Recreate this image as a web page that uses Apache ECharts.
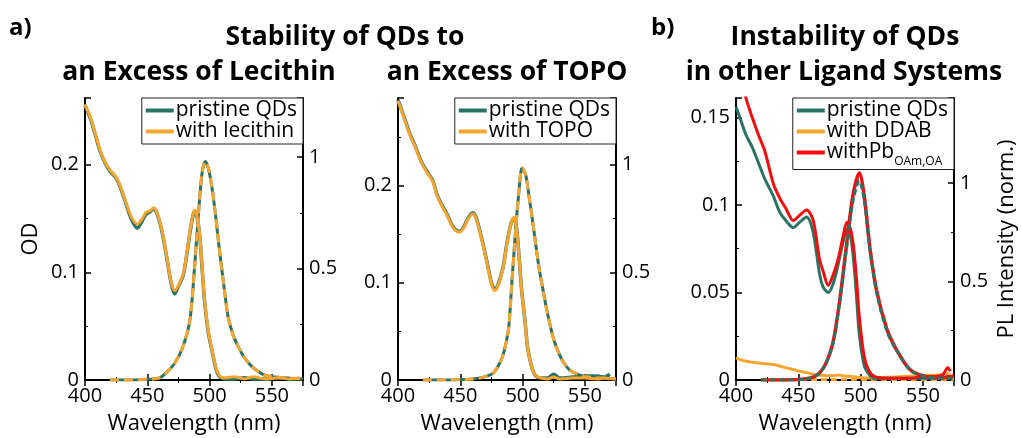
<!DOCTYPE html>
<html>
<head>
<meta charset="utf-8">
<script src="https://cdn.jsdelivr.net/npm/echarts@6/dist/echarts.min.js"></script>
<style>
  html, body { margin: 0; padding: 0; background: #fff; }
  #chart { width: 1021px; height: 438px; }
</style>
</head>
<body>
<div id="chart"></div>
<script>
// ---- panel a) lecithin ----
var wlOd1 = [400, 404, 408, 412, 416, 420, 424, 427, 432, 437, 442, 446, 449, 452, 455, 458, 462, 466, 469, 472, 475, 479, 482, 485, 488, 490, 492, 494, 496, 499, 502, 505, 508, 512, 520, 528, 535, 545, 555, 565, 572];
var odPristine1 = [0.255, 0.244, 0.229, 0.213, 0.202, 0.194, 0.189, 0.183, 0.167, 0.150, 0.141, 0.148, 0.154, 0.156, 0.159, 0.154, 0.137, 0.111, 0.091, 0.080, 0.087, 0.098, 0.119, 0.142, 0.157, 0.151, 0.135, 0.104, 0.073, 0.044, 0.027, 0.011, 0.003, 0.001, 0.001, 0.002, 0.001, 0.001, 0.002, 0.001, 0.001];
var odLecithin1 = [0.256, 0.245, 0.230, 0.214, 0.203, 0.195, 0.190, 0.184, 0.168, 0.152, 0.145, 0.150, 0.156, 0.157, 0.160, 0.155, 0.138, 0.112, 0.092, 0.083, 0.088, 0.099, 0.120, 0.143, 0.158, 0.152, 0.136, 0.105, 0.074, 0.045, 0.028, 0.012, 0.004, 0.002, 0.003, 0.001, 0.003, 0.001, 0.002, 0.001, 0.002];
var wlPl1 = [420, 430, 440, 450, 460, 466, 472, 478, 484, 488, 491, 494, 496.5, 499, 502, 505, 508, 512, 515, 519, 523, 528, 534, 540, 545, 555, 565, 575];
var plPristine1 = [0, 0, 0, 0.003, 0.01, 0.037, 0.075, 0.14, 0.26, 0.51, 0.74, 0.93, 0.98, 0.95, 0.86, 0.73, 0.58, 0.40, 0.28, 0.20, 0.15, 0.10, 0.06, 0.035, 0.02, 0.012, 0.008, 0.005];
var plLecithin1 = [0, 0, 0, 0.003, 0.01, 0.037, 0.075, 0.14, 0.26, 0.51, 0.74, 0.93, 0.98, 0.95, 0.86, 0.73, 0.58, 0.40, 0.28, 0.20, 0.15, 0.10, 0.06, 0.035, 0.02, 0.012, 0.008, 0.005];

// ---- panel a) TOPO ----
var wlOd2 = [400, 405, 409, 414, 419, 424, 428, 431, 434, 437, 440, 443, 446, 449.6, 453, 456, 460, 463, 468, 472, 475, 477.6, 480, 484, 488, 491, 493, 495, 497, 499, 502, 504, 507, 510, 515, 520, 525, 530, 540, 550, 560, 566, 570];
var odPristine2 = [0.288, 0.270, 0.255, 0.240, 0.224, 0.213, 0.205, 0.192, 0.183, 0.176, 0.169, 0.160, 0.155, 0.153, 0.158, 0.166, 0.172, 0.166, 0.141, 0.118, 0.100, 0.093, 0.097, 0.114, 0.145, 0.162, 0.166, 0.158, 0.130, 0.096, 0.060, 0.034, 0.015, 0.005, 0.002, 0.002, 0.006, 0.002, 0.003, 0.004, 0.004, 0.003, 0.006];
var odTopo2 = [0.287, 0.269, 0.254, 0.239, 0.223, 0.212, 0.204, 0.191, 0.182, 0.175, 0.168, 0.159, 0.154, 0.152, 0.157, 0.165, 0.171, 0.165, 0.140, 0.117, 0.099, 0.092, 0.096, 0.113, 0.144, 0.162, 0.167, 0.158, 0.130, 0.096, 0.060, 0.034, 0.015, 0.005, 0.002, 0.001, 0.003, 0.001, 0.002, 0.002, 0.001, 0.002, 0.001];
var wlPl2 = [420, 430, 440, 450, 460, 468, 476, 480, 484, 487, 489, 491.6, 494.6, 497, 499.6, 502.6, 505, 508, 513, 517, 520, 524, 527, 532, 537.6, 545, 551, 560, 575];
var plPristine2 = [0, 0, 0, 0.002, 0.005, 0.012, 0.03, 0.06, 0.11, 0.18, 0.25, 0.47, 0.71, 0.87, 0.985, 0.95, 0.86, 0.74, 0.53, 0.40, 0.31, 0.21, 0.155, 0.09, 0.047, 0.025, 0.015, 0.01, 0.005];
var plTopo2 = [0, 0, 0, 0.002, 0.005, 0.012, 0.03, 0.06, 0.11, 0.18, 0.25, 0.47, 0.71, 0.87, 0.985, 0.95, 0.86, 0.74, 0.53, 0.40, 0.31, 0.21, 0.155, 0.09, 0.047, 0.025, 0.015, 0.01, 0.005];

// ---- panel b) other ligand systems ----
var wlOd3 = [400, 404, 408, 413, 418, 423, 430, 435, 440, 446, 451, 456.7, 462, 467, 470, 474, 478, 482, 486, 489, 492, 494.7, 497, 499, 503, 507, 511, 520, 530, 540, 550, 560, 566, 570, 572];
var odPristine3 = [0.156, 0.148, 0.140, 0.133, 0.124, 0.115, 0.105, 0.096, 0.091, 0.087, 0.090, 0.093, 0.084, 0.061, 0.053, 0.050, 0.055, 0.066, 0.079, 0.086, 0.082, 0.066, 0.045, 0.026, 0.008, 0.003, 0.001, 0.001, 0.001, 0.001, 0.001, 0.001, 0.001, 0.002, 0.002];
var odPb3 = [0.190, 0.175, 0.161, 0.150, 0.140, 0.131, 0.112, 0.104, 0.098, 0.091, 0.094, 0.097, 0.091, 0.069, 0.062, 0.054, 0.060, 0.069, 0.082, 0.090, 0.086, 0.074, 0.055, 0.036, 0.013, 0.005, 0.002, 0.001, 0.001, 0.001, 0.002, 0.002, 0.003, 0.007, 0.005];
var odDdab3 = [0.0126, 0.0115, 0.0107, 0.0102, 0.0097, 0.0093, 0.0088, 0.0080, 0.0069, 0.0060, 0.0050, 0.0042, 0.0032, 0.0028, 0.0026, 0.0024, 0.0025, 0.0028, 0.0024, 0.0022, 0.0020, 0.0018, 0.0016, 0.0014, 0.0012, 0.0012, 0.0013, 0.0015, 0.0018, 0.0022, 0.0025, 0.0028, 0.0030, 0.0035, 0.0032];
var wlPl3 = [420, 430, 440, 455, 462, 467, 472, 478, 483.6, 489, 494, 499, 503, 507.5, 513, 521, 527, 532, 537, 542, 553, 565, 575];
var plPristine3 = [0, 0, 0, 0.005, 0.015, 0.035, 0.08, 0.19, 0.41, 0.68, 0.91, 1.01, 0.91, 0.66, 0.44, 0.25, 0.17, 0.12, 0.07, 0.04, 0.015, 0.01, 0.008];
var plPb3 = [0, 0, 0, 0.005, 0.015, 0.036, 0.082, 0.195, 0.42, 0.70, 0.94, 1.05, 0.93, 0.67, 0.45, 0.26, 0.175, 0.12, 0.072, 0.042, 0.016, 0.012, 0.02];
var plDdab3 = [0.002, 0.001, 0.002, 0.002, 0.003, 0.002, 0.003, 0.003, 0.004, 0.004, 0.003, 0.004, 0.003, 0.003, 0.004, 0.003, 0.002, 0.003, 0.002, 0.002, 0.002, 0.003, 0.004];

var TEAL = '#2b7364';
var ORANGE = '#f7a531';
var RED = '#f50d0d';
var FONT = '"Open Sans"';

function zip(xs, ys) {
    var out = [];
    for (var i = 0; i < xs.length; i++) out.push([xs[i], ys[i]]);
    return out;
}

var chart = echarts.init(document.getElementById('chart'), null, { renderer: 'canvas' });

var grids = [
    { left: 85, right: 718, top: 98, bottom: 58, outerBoundsMode: 'none', containLabel: false },
    { left: 398, right: 405, top: 98, bottom: 58, outerBoundsMode: 'none', containLabel: false },
    { left: 736, right: 67, top: 98, bottom: 58, outerBoundsMode: 'none', containLabel: false }
];

function xAxisBottom(gi) {
    return {
        type: 'value', gridIndex: gi, position: 'bottom',
        min: 400, max: 575, interval: 50,
        axisLine: { lineStyle: { color: '#000', width: 2 } },
        axisTick: { inside: true, length: 6, lineStyle: { color: '#000', width: 1.5 } },
        minorTick: { show: true, splitNumber: 2, length: 3, lineStyle: { color: '#000', width: 1 } },
        axisLabel: { color: '#000', fontSize: 20, fontFamily: FONT, margin: 6, showMaxLabel: false },
        splitLine: { show: false },
        name: 'Wavelength (nm)', nameLocation: 'middle', nameGap: 33,
        nameTextStyle: { color: '#000', fontSize: 22, fontFamily: FONT, verticalAlign: 'top' }
    };
}
function xAxisTop(gi) {
    return {
        type: 'value', gridIndex: gi, position: 'top',
        min: 400, max: 575, interval: 50,
        axisLine: { lineStyle: { color: '#000', width: 1.5 } },
        axisTick: { inside: true, length: 6, lineStyle: { color: '#000', width: 1.5 } },
        minorTick: { show: true, splitNumber: 2, length: 3, lineStyle: { color: '#000', width: 1 } },
        axisLabel: { show: false },
        splitLine: { show: false }
    };
}
function yAxis(gi, pos, max, interval, name, gap) {
    return {
        type: 'value', gridIndex: gi, position: pos,
        min: 0, max: max, interval: interval,
        axisLine: { show: true, lineStyle: { color: '#000', width: 2 } },
        axisTick: { show: true, inside: true, length: 6, lineStyle: { color: '#000', width: 1.5 } },
        minorTick: { show: true, splitNumber: 2, length: 3, lineStyle: { color: '#000', width: 1 } },
        axisLabel: { color: '#000', fontSize: 20, fontFamily: FONT, margin: 6, showMaxLabel: false },
        splitLine: { show: false },
        name: name || '', nameLocation: 'middle', nameGap: gap || 0,
        nameTextStyle: { color: '#000', fontSize: 22, fontFamily: FONT }
    };
}

function line(name, xi, yi, data, color, width, dash, z) {
    return {
        name: name, type: 'line', xAxisIndex: xi, yAxisIndex: yi,
        data: data, showSymbol: false, symbol: 'none', smooth: 0.3,
        lineStyle: { color: color, width: width, type: dash || 'solid' },
        itemStyle: { color: color },
        z: z || 2, animation: false
    };
}

function legend(names, right, top, lh) {
    return {
        data: names, orient: 'vertical', right: right, top: top,
        backgroundColor: '#fff', borderColor: '#222', borderWidth: 1,
        padding: [2, 6, 2, 4], itemGap: 0, itemWidth: 28, itemHeight: 4,
        icon: 'rect', selectedMode: false,
        formatter: function (n) {
            return n === 'withPbOAm,OA' ? '{m|withPb}{s|OAm,OA}' : '{m|' + n + '}';
        },
        textStyle: {
            color: '#000', fontFamily: FONT, padding: [0, 0, 0, -3],
            rich: {
                m: { fontSize: 21, fontFamily: FONT, lineHeight: lh, color: '#000' },
                s: { fontSize: 12, fontFamily: FONT, lineHeight: 30, verticalAlign: 'bottom', padding: [12, 0, 0, 0], color: '#000' }
            }
        }
    };
}

var option = {
    backgroundColor: '#fff',
    animation: false,
    grid: grids,
    xAxis: [xAxisBottom(0), xAxisTop(0), xAxisBottom(1), xAxisTop(1), xAxisBottom(2), xAxisTop(2)],
    yAxis: [
        yAxis(0, 'left', 0.262, 0.1, 'OD', 43),
        yAxis(0, 'right', 1.265, 0.5),
        yAxis(1, 'left', 0.29, 0.1),
        yAxis(1, 'right', 1.31, 0.5),
        yAxis(2, 'left', 0.161, 0.05),
        yAxis(2, 'right', 1.43, 0.5, 'PL Intensity (norm.)', 42)
    ],
    legend: [
        legend(['pristine QDs', 'with lecithin'], 718, 98, 26),
        legend(['pristine QDs', 'with TOPO'], 405, 98, 26),
        legend(['pristine QDs', 'with DDAB', 'withPbOAm,OA'], 67, 98, 21)
    ],
    graphic: [
        { type: 'text', style: { text: 'a)', x: 9, y: 28, font: 'bold 24px ' + FONT, fill: '#000', align: 'left', verticalAlign: 'middle' } },
        { type: 'text', style: { text: 'b)', x: 651, y: 28, font: 'bold 24px ' + FONT, fill: '#000', align: 'left', verticalAlign: 'middle' } },
        { type: 'text', style: { text: 'Stability of QDs to', x: 345, y: 37, font: 'bold 26.5px ' + FONT, fill: '#000', align: 'center', verticalAlign: 'middle' } },
        { type: 'text', style: { text: 'an Excess of Lecithin', x: 199, y: 72, font: 'bold 26.5px ' + FONT, fill: '#000', align: 'center', verticalAlign: 'middle' } },
        { type: 'text', style: { text: 'an Excess of TOPO', x: 507, y: 72, font: 'bold 26.5px ' + FONT, fill: '#000', align: 'center', verticalAlign: 'middle' } },
        { type: 'text', style: { text: 'Instability of QDs', x: 845, y: 37, font: 'bold 26.5px ' + FONT, fill: '#000', align: 'center', verticalAlign: 'middle' } },
        { type: 'text', style: { text: 'in other Ligand Systems', x: 844, y: 72, font: 'bold 26.5px ' + FONT, fill: '#000', align: 'center', verticalAlign: 'middle' } }
    ],
    series: [
        // panel 1
        line('pristine QDs', 0, 0, zip(wlOd1, odPristine1), TEAL, 3.5, 'solid', 2),
        line('with lecithin', 0, 0, zip(wlOd1, odLecithin1), ORANGE, 3, 'solid', 3),
        line('pristine QDs', 0, 1, zip(wlPl1, plPristine1), TEAL, 3, 'solid', 2),
        line('with lecithin', 0, 1, zip(wlPl1, plLecithin1), ORANGE, 3, [9, 5], 3),
        // panel 2
        line('pristine QDs', 2, 2, zip(wlOd2, odPristine2), TEAL, 3.5, 'solid', 2),
        line('with TOPO', 2, 2, zip(wlOd2, odTopo2), ORANGE, 3, 'solid', 3),
        line('pristine QDs', 2, 3, zip(wlPl2, plPristine2), TEAL, 3, 'solid', 2),
        line('with TOPO', 2, 3, zip(wlPl2, plTopo2), ORANGE, 3, [9, 5], 3),
        // panel 3
        line('with DDAB', 4, 4, zip(wlOd3, odDdab3), ORANGE, 3, 'solid', 2),
        line('with DDAB', 4, 5, zip(wlPl3, plDdab3), ORANGE, 3, [6, 4], 2),
        line('pristine QDs', 4, 4, zip(wlOd3, odPristine3), TEAL, 3, 'solid', 3),
        line('withPbOAm,OA', 4, 4, zip(wlOd3, odPb3), RED, 3, 'solid', 4),
        line('withPbOAm,OA', 4, 5, zip(wlPl3, plPb3), RED, 3.5, 'solid', 4),
        line('pristine QDs', 4, 5, zip(wlPl3, plPristine3), TEAL, 3, [6, 3], 5)
    ]
};

chart.setOption(option);
window.onresize = function () {
    chart.resize();
};
</script>
</body>
</html>
